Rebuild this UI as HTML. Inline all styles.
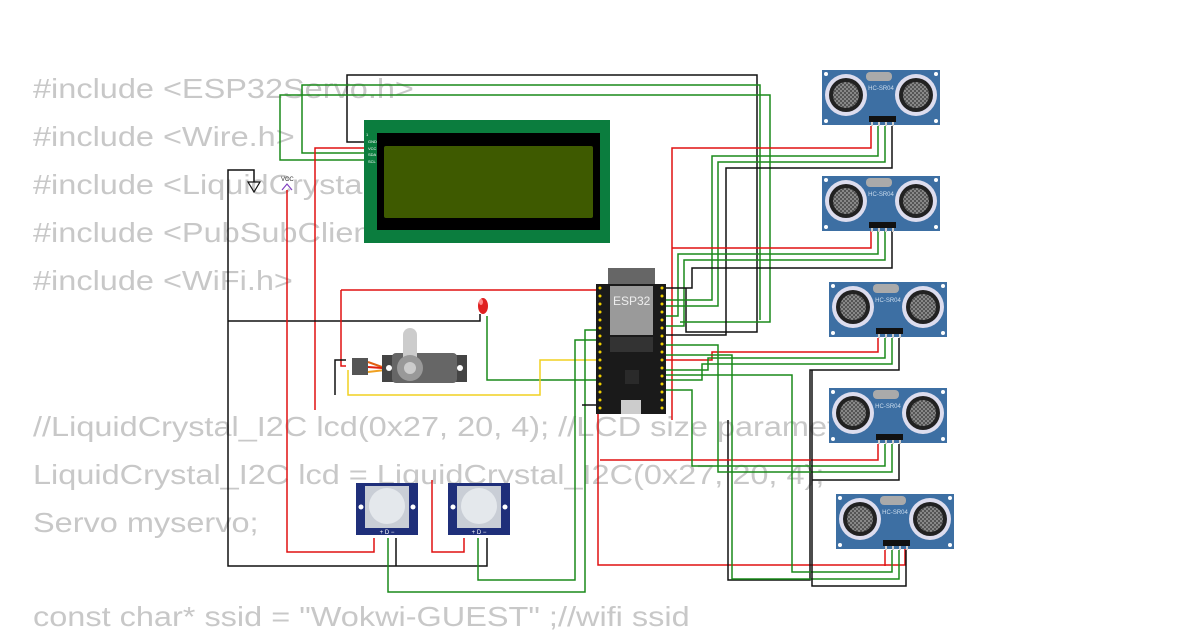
<!DOCTYPE html>
<html><head><meta charset="utf-8"><style>
html,body{margin:0;padding:0;background:#fff;}
svg{display:block}
.code{font-family:"Liberation Sans",sans-serif;font-size:28px;fill:#c8c8c8}
</style></head><body>
<svg width="1200" height="630" viewBox="0 0 1200 630" xmlns="http://www.w3.org/2000/svg">
<defs>
<pattern id="chk" width="4" height="4" patternUnits="userSpaceOnUse"><rect width="4" height="4" fill="#888"/><rect width="2" height="2" fill="#555"/><rect x="2" y="2" width="2" height="2" fill="#555"/></pattern>
<g id="sr">
<rect x="0" y="0" width="118" height="55" fill="#3d6fa3"/>
<circle cx="4" cy="4" r="2" fill="#fff"/><circle cx="114" cy="4" r="2" fill="#fff"/><circle cx="4" cy="51" r="2" fill="#fff"/><circle cx="114" cy="51" r="2" fill="#fff"/>
<rect x="44" y="2" width="26" height="9" rx="4" fill="#aaa"/>
<circle cx="24" cy="25" r="21" fill="#dde"/><circle cx="24" cy="25" r="17" fill="#222"/><circle cx="24" cy="25" r="13" fill="url(#chk)"/>
<circle cx="94" cy="25" r="21" fill="#dde"/><circle cx="94" cy="25" r="17" fill="#222"/><circle cx="94" cy="25" r="13" fill="url(#chk)"/>
<text x="59" y="20" font-size="6" fill="#cde" text-anchor="middle" font-family="Liberation Sans">HC-SR04</text>
<rect x="47" y="46" width="27" height="6" fill="#111"/>
<rect x="49" y="52" width="2" height="4" fill="#ccc"/><rect x="56" y="52" width="2" height="4" fill="#ccc"/><rect x="63" y="52" width="2" height="4" fill="#ccc"/><rect x="70" y="52" width="2" height="4" fill="#ccc"/>
</g>
<g id="pir">
<rect x="0" y="0" width="62" height="52" fill="#1f2f7a"/>
<rect x="9" y="3" width="44" height="42" fill="#c9ced6"/>
<circle cx="31" cy="23" r="18" fill="#e4e8ec"/>
<circle cx="5" cy="24" r="2.5" fill="#fff"/><circle cx="57" cy="24" r="2.5" fill="#fff"/>
<text x="31" y="51" font-size="6" fill="#fff" text-anchor="middle" font-family="Liberation Sans">+ D −</text>
</g>
</defs>

<g class="code" transform="translate(33,0) scale(1.16,1)">
<text x="0" y="98">#include &lt;ESP32Servo.h&gt;</text>
<text x="0" y="146">#include &lt;Wire.h&gt;</text>
<text x="0" y="194">#include &lt;LiquidCrystal_I2C.h&gt;</text>
<text x="0" y="242">#include &lt;PubSubClient.h&gt;</text>
<text x="0" y="290">#include &lt;WiFi.h&gt;</text>
<text x="0" y="436">//LiquidCrystal_I2C lcd(0x27, 20, 4); //LCD size parameters</text>
<text x="0" y="484">LiquidCrystal_I2C lcd = LiquidCrystal_I2C(0x27, 20, 4);</text>
<text x="0" y="532">Servo myservo;</text>
<text x="0" y="626">const char* ssid = "Wokwi-GUEST" ;//wifi ssid</text>
</g>

<g fill="none" stroke-width="1.5" stroke-linejoin="miter">
<polyline stroke="#111" points="364,142 347,142 347,75 757,75 757,332 686,332 686,288"/>
<polyline stroke="#1a8a1a" points="364,153 302,153 302,85 760,85 760,320"/>
<polyline stroke="#1a8a1a" points="364,160 280,160 280,95 770,95 770,322 680,322"/>
<polyline stroke="#e01010" points="364,148 315,148 315,410"/>
<polyline stroke="#111" points="254,182 254,170 228,170 228,566 487,566 487,538"/>
<polyline stroke="#111" points="228,321 480,321 480,314"/>
<polyline stroke="#e01010" points="287,190 287,552 374,552 374,538"/>
<polyline stroke="#e01010" points="341,290 341,366 346,366"/>
<polyline stroke="#e01010" points="341,290 598,290"/>
<polyline stroke="#1a8a1a" points="487,316 487,380 598,380"/>
<polyline stroke="#f0d020" points="348,370 348,395 540,395 540,360 598,360"/>
<polyline stroke="#111" points="346,360 335,360 335,395"/>
<polyline stroke="#e01010" points="432,480 432,552 464,552 464,538"/>
<polyline stroke="#1a8a1a" points="388,538 388,592 585,592 585,330 598,330"/>
<polyline stroke="#1a8a1a" points="478,538 478,580 575,580 575,340 598,340"/>
<polyline stroke="#111" points="396,538 396,566"/>
<polyline stroke="#e01010" points="598,413 598,565 905,565 905,548"/>
<polyline stroke="#111" points="598,405 582,405"/>
<polyline stroke="#e01010" points="871,126 871,148 672,148 672,420"/>
<polyline stroke="#1a8a1a" points="878,126 878,156 712,156 712,300 666,300"/>
<polyline stroke="#1a8a1a" points="885,126 885,162 718,162 718,306 666,306"/>
<polyline stroke="#111" points="892,126 892,168 726,168 726,335 666,335"/>
<polyline stroke="#e01010" points="871,231 871,248 672,248"/>
<polyline stroke="#1a8a1a" points="878,231 878,254 678,254 678,316 666,316"/>
<polyline stroke="#1a8a1a" points="885,231 885,260 684,260 684,326 666,326"/>
<polyline stroke="#111" points="892,231 892,268 692,268 692,288 666,288"/>
<polyline stroke="#e01010" points="878,338 878,352 712,352 712,360 666,360"/>
<polyline stroke="#1a8a1a" points="885,338 885,358 708,358 708,370 666,370"/>
<polyline stroke="#1a8a1a" points="892,338 892,364 702,364 702,380 666,380"/>
<polyline stroke="#111" points="899,338 899,370 810,370 810,580 728,580 728,420"/>
<polyline stroke="#e01010" points="878,444 878,460 600,460"/>
<polyline stroke="#1a8a1a" points="885,444 885,466 692,466 692,390 666,390"/>
<polyline stroke="#1a8a1a" points="892,444 892,472 718,472 718,345 666,345"/>
<polyline stroke="#111" points="899,444 899,480 812,480"/>
<polyline stroke="#e01010" points="885,550 885,566"/>
<polyline stroke="#1a8a1a" points="892,550 892,572 792,572 792,375 666,375"/>
<polyline stroke="#1a8a1a" points="899,550 899,579 732,579 732,355 666,355"/>
<polyline stroke="#111" points="906,550 906,586 812,586 812,370"/>
</g>

<rect x="364" y="120" width="246" height="123" fill="#0b7d3e"/>
<rect x="377" y="133" width="223" height="97" fill="#000"/>
<rect x="384" y="146" width="209" height="72" rx="2" fill="#3e5a00"/>
<g font-family="Liberation Sans" font-size="4" fill="#fff"><text x="366" y="136">1</text><text x="368" y="143">GND</text><text x="368" y="150">VCC</text><text x="368" y="156">SDA</text><text x="368" y="163">SCL</text></g>

<polygon points="248,182 260,182 254,192" fill="none" stroke="#111" stroke-width="1.2"/>
<text x="281" y="181" font-size="6" font-family="Liberation Sans" fill="#333">VCC</text>
<polyline points="282,190 287,184 292,190" fill="none" stroke="#8040c0" stroke-width="1.2"/>

<ellipse cx="483" cy="306" rx="5" ry="8" fill="#e02020"/>
<ellipse cx="481" cy="302" rx="2" ry="3" fill="#f88"/>

<rect x="352" y="358" width="16" height="17" fill="#555"/>
<polyline points="368,362 385,368 395,368" stroke="#e06010" stroke-width="2" fill="none"/>
<polyline points="368,367 395,369" stroke="#e02010" stroke-width="2" fill="none"/>
<polyline points="368,372 385,370 395,370" stroke="#f0a020" stroke-width="2" fill="none"/>
<rect x="382" y="355" width="85" height="27" fill="#444"/>
<rect x="392" y="353" width="65" height="30" rx="4" fill="#666"/>
<rect x="403" y="328" width="14" height="38" rx="7" fill="#ccc"/>
<circle cx="410" cy="368" r="13" fill="#999"/><circle cx="410" cy="368" r="6" fill="#ccc"/>
<circle cx="389" cy="368" r="3" fill="#fff"/><circle cx="460" cy="368" r="3" fill="#fff"/>

<rect x="608" y="268" width="47" height="16" fill="#666"/>
<rect x="596" y="284" width="70" height="130" fill="#1a1a1a"/>
<rect x="610" y="286" width="43" height="49" fill="#9a9a9a"/>
<text x="613" y="305" font-size="12" font-family="Liberation Sans" fill="#eee">ESP32</text>
<rect x="610" y="337" width="43" height="15" fill="#333"/>
<rect x="625" y="370" width="14" height="14" fill="#2a2a2a"/>
<rect x="621" y="400" width="20" height="14" fill="#ccc"/>
<g fill="#f0d000">
<circle cx="600" cy="288" r="1.5"/><circle cx="600" cy="296" r="1.5"/><circle cx="600" cy="304" r="1.5"/><circle cx="600" cy="312" r="1.5"/><circle cx="600" cy="320" r="1.5"/><circle cx="600" cy="328" r="1.5"/><circle cx="600" cy="336" r="1.5"/><circle cx="600" cy="344" r="1.5"/><circle cx="600" cy="352" r="1.5"/><circle cx="600" cy="360" r="1.5"/><circle cx="600" cy="368" r="1.5"/><circle cx="600" cy="376" r="1.5"/><circle cx="600" cy="384" r="1.5"/><circle cx="600" cy="392" r="1.5"/><circle cx="600" cy="400" r="1.5"/><circle cx="600" cy="408" r="1.5"/>
<circle cx="662" cy="288" r="1.5"/><circle cx="662" cy="296" r="1.5"/><circle cx="662" cy="304" r="1.5"/><circle cx="662" cy="312" r="1.5"/><circle cx="662" cy="320" r="1.5"/><circle cx="662" cy="328" r="1.5"/><circle cx="662" cy="336" r="1.5"/><circle cx="662" cy="344" r="1.5"/><circle cx="662" cy="352" r="1.5"/><circle cx="662" cy="360" r="1.5"/><circle cx="662" cy="368" r="1.5"/><circle cx="662" cy="376" r="1.5"/><circle cx="662" cy="384" r="1.5"/><circle cx="662" cy="392" r="1.5"/><circle cx="662" cy="400" r="1.5"/><circle cx="662" cy="408" r="1.5"/>
</g>

<use href="#sr" x="822" y="70"/>
<use href="#sr" x="822" y="176"/>
<use href="#sr" x="829" y="282"/>
<use href="#sr" x="829" y="388"/>
<use href="#sr" x="836" y="494"/>

<use href="#pir" x="356" y="483"/>
<use href="#pir" x="448" y="483"/>
</svg>
</body></html>
